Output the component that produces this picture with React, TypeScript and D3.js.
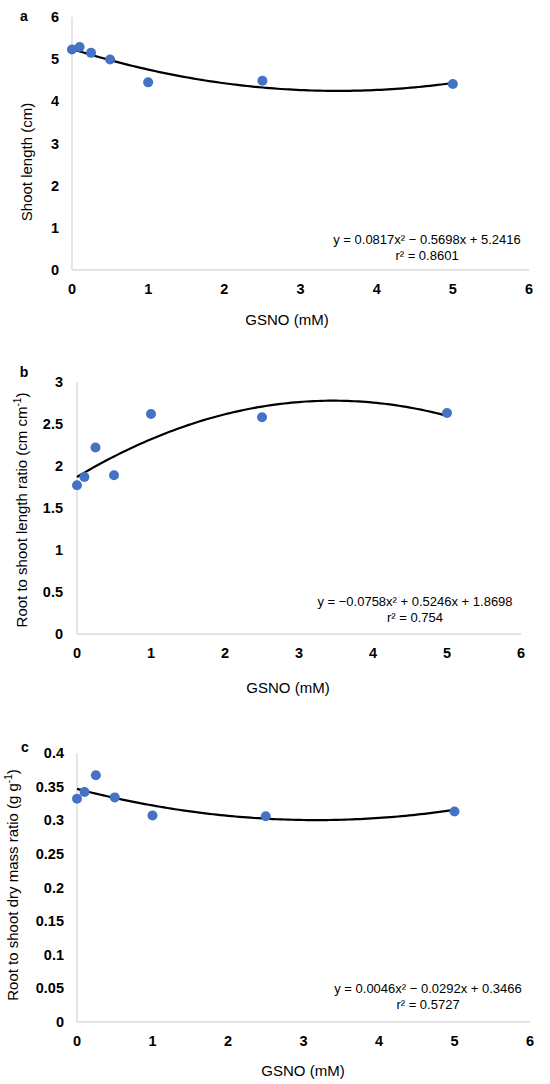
import React from "react";
import * as d3 from "d3";

// GSNO concentrations (mM)
const doses = [0, 0.1, 0.25, 0.5, 1, 2.5, 5];

const shootLength = [5.23, 5.29, 5.15, 4.99, 4.45, 4.49, 4.41];
const rootShootLengthRatio = [1.77, 1.87, 2.22, 1.89, 2.62, 2.58, 2.63];
const rootShootDryMass = [0.332, 0.342, 0.367, 0.334, 0.307, 0.306, 0.313];

// printed quadratic fits [a, b, c] for y = a x^2 + b x + c
const fitA = [0.0817, -0.5698, 5.2416];
const fitB = [-0.0758, 0.5246, 1.8698];
const fitC = [0.0046, -0.0292, 0.3466];

const xTicks = [0, 1, 2, 3, 4, 5, 6];
const yTicksA = [0, 1, 2, 3, 4, 5, 6];
const yTicksB = [0, 0.5, 1, 1.5, 2, 2.5, 3];
const yTicksC = [0, 0.05, 0.1, 0.15, 0.2, 0.25, 0.3, 0.35, 0.4];

const dotColor = "#4472c4";
const axisColor = "#d9d9d9";
const font = "Liberation Sans, Arial, sans-serif";

const Panel: any = (props: any) => {
    const {
        letter,
        letterPos,
        values,
        fit,
        yTicks,
        yMax,
        left,
        right,
        top,
        bottom,
        yTitle,
        yTitlePos,
        xTitlePos,
        eqPos,
        eqText,
        r2Text,
        tickRight,
    } = props;

    const x = d3.scaleLinear([0, 6], [left, right]);
    const y = d3.scaleLinear([0, yMax], [bottom, top]);

    const poly = (t: number) => fit[0] * t * t + fit[1] * t + fit[2];
    const curve = d3
        .line<number>()
        .x((t) => x(t))
        .y((t) => y(poly(t)))(d3.range(0, 5.001, 0.05));

    return (
        <g fontFamily={font}>
            <text x={letterPos[0]} y={letterPos[1]} dy="0.35em" textAnchor="middle" fontWeight="bold" fontSize={14}>
                {letter}
            </text>
            <line x1={left} x2={left} y1={top} y2={bottom} stroke={axisColor} strokeWidth={1.3} />
            <line x1={left} x2={right} y1={bottom} y2={bottom} stroke={axisColor} strokeWidth={1.3} />
            {yTicks.map((d: number) => (
                <text key={"y" + d} x={tickRight} y={y(d)} dy="0.35em" textAnchor="end" fontWeight="bold" fontSize={14.5}>
                    {d}
                </text>
            ))}
            {xTicks.map((d) => (
                <text key={"x" + d} x={x(d)} y={bottom + 19} dy="0.35em" textAnchor="middle" fontWeight="bold" fontSize={14.5}>
                    {d}
                </text>
            ))}
            <path d={curve || ""} fill="none" stroke="#000" strokeWidth={2.2} />
            {values.map((v: number, i: number) => (
                <circle key={i} cx={x(doses[i])} cy={y(v)} r={5} fill={dotColor} />
            ))}
            <text x={eqPos[0]} y={eqPos[1]} dy="0.35em" textAnchor="middle" fontSize={13}>
                {eqText}
            </text>
            <text x={eqPos[0]} y={eqPos[1] + 16} dy="0.35em" textAnchor="middle" fontSize={13}>
                {r2Text}
            </text>
            <text
                transform={`translate(${yTitlePos[0]},${yTitlePos[1]}) rotate(-90)`}
                dy="0.35em"
                textAnchor="middle"
                fontSize={15}
            >
                {yTitle}
            </text>
            <text x={xTitlePos[0]} y={xTitlePos[1]} dy="0.35em" textAnchor="middle" fontSize={15}>
                GSNO (mM)
            </text>
        </g>
    );
};

export default function App() {
    return (
        <svg width={550} height={1084} style={{ position: "absolute", top: 0, left: 0, background: "#fff" }}>
            <Panel
                letter="a"
                letterPos={[24, 16]}
                values={shootLength}
                fit={fitA}
                yTicks={yTicksA}
                yMax={6}
                left={72}
                right={529}
                top={17}
                bottom={270}
                tickRight={59}
                yTitle="Shoot length (cm)"
                yTitlePos={[27, 162]}
                xTitlePos={[287, 320]}
                eqPos={[427, 239]}
                eqText="y = 0.0817x² − 0.5698x + 5.2416"
                r2Text="r² = 0.8601"
            />
            <Panel
                letter="b"
                letterPos={[24, 372]}
                values={rootShootLengthRatio}
                fit={fitB}
                yTicks={yTicksB}
                yMax={3}
                left={77}
                right={521}
                top={382}
                bottom={634}
                tickRight={63}
                yTitle={
                    <>
                        Root to shoot length ratio (cm cm
                        <tspan fontSize={10} dy={-6}>-1</tspan>
                        <tspan dy={6}>)</tspan>
                    </>
                }
                yTitlePos={[22, 510]}
                xTitlePos={[288, 688]}
                eqPos={[415, 601]}
                eqText="y = −0.0758x² + 0.5246x + 1.8698"
                r2Text="r² = 0.754"
            />
            <Panel
                letter="c"
                letterPos={[25, 747]}
                values={rootShootDryMass}
                fit={fitC}
                yTicks={yTicksC}
                yMax={0.4}
                left={77}
                right={530}
                top={753}
                bottom={1022}
                tickRight={64}
                yTitle={
                    <>
                        Root to shoot dry mass ratio (g g
                        <tspan fontSize={10} dy={-6}>-1</tspan>
                        <tspan dy={6}>)</tspan>
                    </>
                }
                yTitlePos={[13, 885]}
                xTitlePos={[303, 1071]}
                eqPos={[428, 988]}
                eqText="y = 0.0046x² − 0.0292x + 0.3466"
                r2Text="r² = 0.5727"
            />
        </svg>
    );
}
